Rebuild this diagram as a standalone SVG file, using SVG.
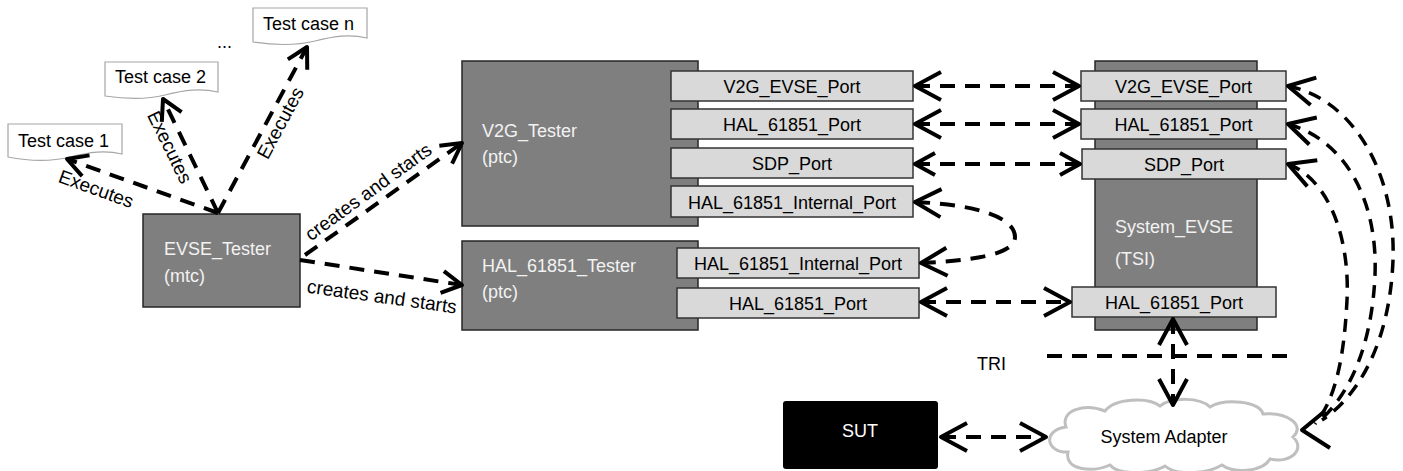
<svg xmlns="http://www.w3.org/2000/svg" width="1403" height="471" viewBox="0 0 1403 471">
<style>
text{font-family:"Liberation Sans",Arial,sans-serif;font-size:18px}
.doc{fill:#fff;stroke:#a6a6a6;stroke-width:1.2}
.comp{fill:#7f7f7f;stroke:#262626;stroke-width:1.5}
.port{fill:#d9d9d9;stroke:#333;stroke-width:1.5}
.lt{fill:#f2f2f2}
.pt{fill:#000;text-anchor:middle}
.c{fill:none;stroke:#000;stroke-width:4;stroke-dasharray:15 10}
.cs{fill:none;stroke:#000;stroke-width:3.5;stroke-dasharray:13 9}
.ah{fill:none;stroke:#000;stroke-width:4;stroke-linejoin:round}
.lbl{fill:#000;text-anchor:middle;font-size:19px}
</style>
<defs>
<marker id="big" viewBox="-32 -18 36 36" refX="0" refY="0" markerWidth="36" markerHeight="36" markerUnits="userSpaceOnUse" orient="auto-start-reverse" overflow="visible">
<path d="M-26,-14 L0,0 L-26,14" fill="none" stroke="#000" stroke-width="4" stroke-linejoin="round"/>
</marker>
<marker id="sm" viewBox="-24 -14 28 28" refX="0" refY="0" markerWidth="28" markerHeight="28" markerUnits="userSpaceOnUse" orient="auto-start-reverse" overflow="visible">
<path d="M-20,-11 L0,0 L-20,11" fill="none" stroke="#000" stroke-width="4" stroke-linejoin="round"/>
</marker>
</defs>
<rect width="1403" height="471" fill="#fff"/>

<g id="tc1">
<path class="doc" d="M8,124 H122 V154 C105,150 90,152 70,157 C50,162 28,161 8,157 Z"/>
<text x="18" y="147" font-size="18.5">Test case 1</text>
</g>
<g id="tc2">
<path class="doc" d="M105,62 H218 V92 C200,88 185,90 165,95 C145,100 125,99 105,96 Z"/>
<text x="115" y="83" font-size="18.5">Test case 2</text>
</g>
<g id="tcn">
<path class="doc" d="M253,8 H367 V38 C350,34 335,36 315,41 C295,46 273,45 253,42 Z"/>
<text x="263" y="30" font-size="18.5">Test case n</text>
</g>
<g id="ellipsis"><text x="217" y="48">...</text></g>

<g id="evse_tester">
<rect class="comp" x="143" y="214" width="157" height="93"/>
<text class="lt" x="164" y="255">EVSE_Tester</text>
<text class="lt" x="164" y="282">(mtc)</text>
</g>

<g id="v2g_tester">
<rect class="comp" x="462" y="61" width="236" height="165"/>
<text class="lt" x="482" y="137" font-size="19">V2G_Tester</text>
<text class="lt" x="482" y="163" font-size="19">(ptc)</text>
<rect class="port" x="671" y="71" width="242" height="30"/>
<text class="pt" x="792" y="93" font-size="17">V2G_EVSE_Port</text>
<rect class="port" x="671" y="109" width="242" height="30"/>
<text class="pt" x="792" y="131" font-size="19">HAL_61851_Port</text>
<rect class="port" x="671" y="148" width="242" height="30"/>
<text class="pt" x="792" y="170">SDP_Port</text>
<rect class="port" x="671" y="186" width="242" height="31"/>
<text class="pt" x="792" y="209" font-size="19">HAL_61851_Internal_Port</text>
</g>

<g id="hal_tester">
<rect class="comp" x="462" y="241" width="236" height="89"/>
<text class="lt" x="482" y="272" font-size="19">HAL_61851_Tester</text>
<text class="lt" x="482" y="298" font-size="19">(ptc)</text>
<rect class="port" x="677" y="248" width="242" height="30"/>
<text class="pt" x="798" y="270" font-size="19">HAL_61851_Internal_Port</text>
<rect class="port" x="677" y="288" width="242" height="30"/>
<text class="pt" x="798" y="310" font-size="19">HAL_61851_Port</text>
</g>

<g id="system_evse">
<rect class="comp" x="1095" y="61" width="162" height="269"/>
<text class="lt" x="1115" y="233">System_EVSE</text>
<text class="lt" x="1115" y="265">(TSI)</text>
<rect class="port" x="1081" y="71" width="205" height="30"/>
<text class="pt" x="1183.5" y="93" font-size="17">V2G_EVSE_Port</text>
<rect class="port" x="1081" y="109" width="205" height="30"/>
<text class="pt" x="1183.5" y="131" font-size="19">HAL_61851_Port</text>
<rect class="port" x="1082" y="149" width="204" height="30"/>
<text class="pt" x="1184" y="171">SDP_Port</text>
<rect class="port" x="1072" y="287" width="204" height="30"/>
<text class="pt" x="1174" y="309" font-size="19">HAL_61851_Port</text>
</g>

<g id="tri"><text x="977" y="370">TRI</text></g>

<g id="sut">
<rect x="783" y="401" width="155" height="68" rx="3" fill="#000"/>
<text x="860" y="437" fill="#fff" text-anchor="middle">SUT</text>
</g>

<g id="system_adapter">
<path d="M1068,452 C1046,453 1042,430 1066,427 C1060,410 1085,403 1105,411 C1115,398 1148,397 1160,406 C1172,397 1200,397 1210,407 C1225,398 1260,401 1263,414 C1287,412 1306,425 1293,437 C1306,449 1291,464 1270,459 C1262,473 1232,473 1222,465 C1205,475 1175,475 1165,466 C1150,475 1118,475 1110,465 C1092,473 1064,470 1068,452 Z" fill="#fff" stroke="#bfbfbf" stroke-width="3"/>
<text x="1164" y="443" text-anchor="middle" font-size="19">System Adapter</text>
</g>

<g id="connectors">
<path class="c" d="M218,213 L67,159" marker-end="url(#sm)"/>
<path class="c" d="M218,213 L163,99" marker-end="url(#sm)"/>
<path class="c" d="M218,213 L307,47" marker-end="url(#sm)"/>
<path class="c" d="M305,255 L462,143" marker-end="url(#sm)"/>
<path class="c" d="M300,260 L462,285" marker-end="url(#sm)"/>
<path class="c" d="M915,86 H1079" marker-start="url(#big)" marker-end="url(#big)"/>
<path class="c" d="M915,124 H1079" marker-start="url(#big)" marker-end="url(#big)"/>
<path class="c" d="M915,164 H1080" marker-start="url(#sm)" marker-end="url(#sm)"/>
<path class="c" d="M915,202 C985,205 1015,220 1015,237 C1015,252 985,260 921,263" marker-start="url(#big)" marker-end="url(#big)"/>
<path class="c" d="M921,302 H1070" marker-start="url(#big)" marker-end="url(#big)"/>
<path class="c" d="M1047,356 H1290"/>
<path class="c" d="M1173,319 V405" marker-start="url(#big)" marker-end="url(#big)"/>
<path class="c" d="M941,437 H1046" marker-start="url(#big)" marker-end="url(#big)"/>
<path class="cs" d="M1288,86 C1355,100 1396,175 1393,260 C1390,340 1360,395 1322,420" marker-start="url(#big)"/>
<path class="cs" d="M1288,124 C1345,140 1378,200 1375,275 C1372,345 1350,395 1318,422" marker-start="url(#big)"/>
<path class="cs" d="M1288,164 C1330,180 1350,240 1347,300 C1344,360 1335,400 1315,424" marker-start="url(#big)"/>
<path class="ah" d="M1325,411 L1302,430 L1330,448"/>
<text class="lbl" transform="translate(94,195) rotate(20)">Executes</text>
<text class="lbl" transform="translate(164,150) rotate(64)">Executes</text>
<text class="lbl" transform="translate(286,126) rotate(-62)">Executes</text>
<text class="lbl" transform="translate(372,197) rotate(-36)">creates and starts</text>
<text class="lbl" transform="translate(381,303) rotate(8)">creates and starts</text>
</g>
</svg>
